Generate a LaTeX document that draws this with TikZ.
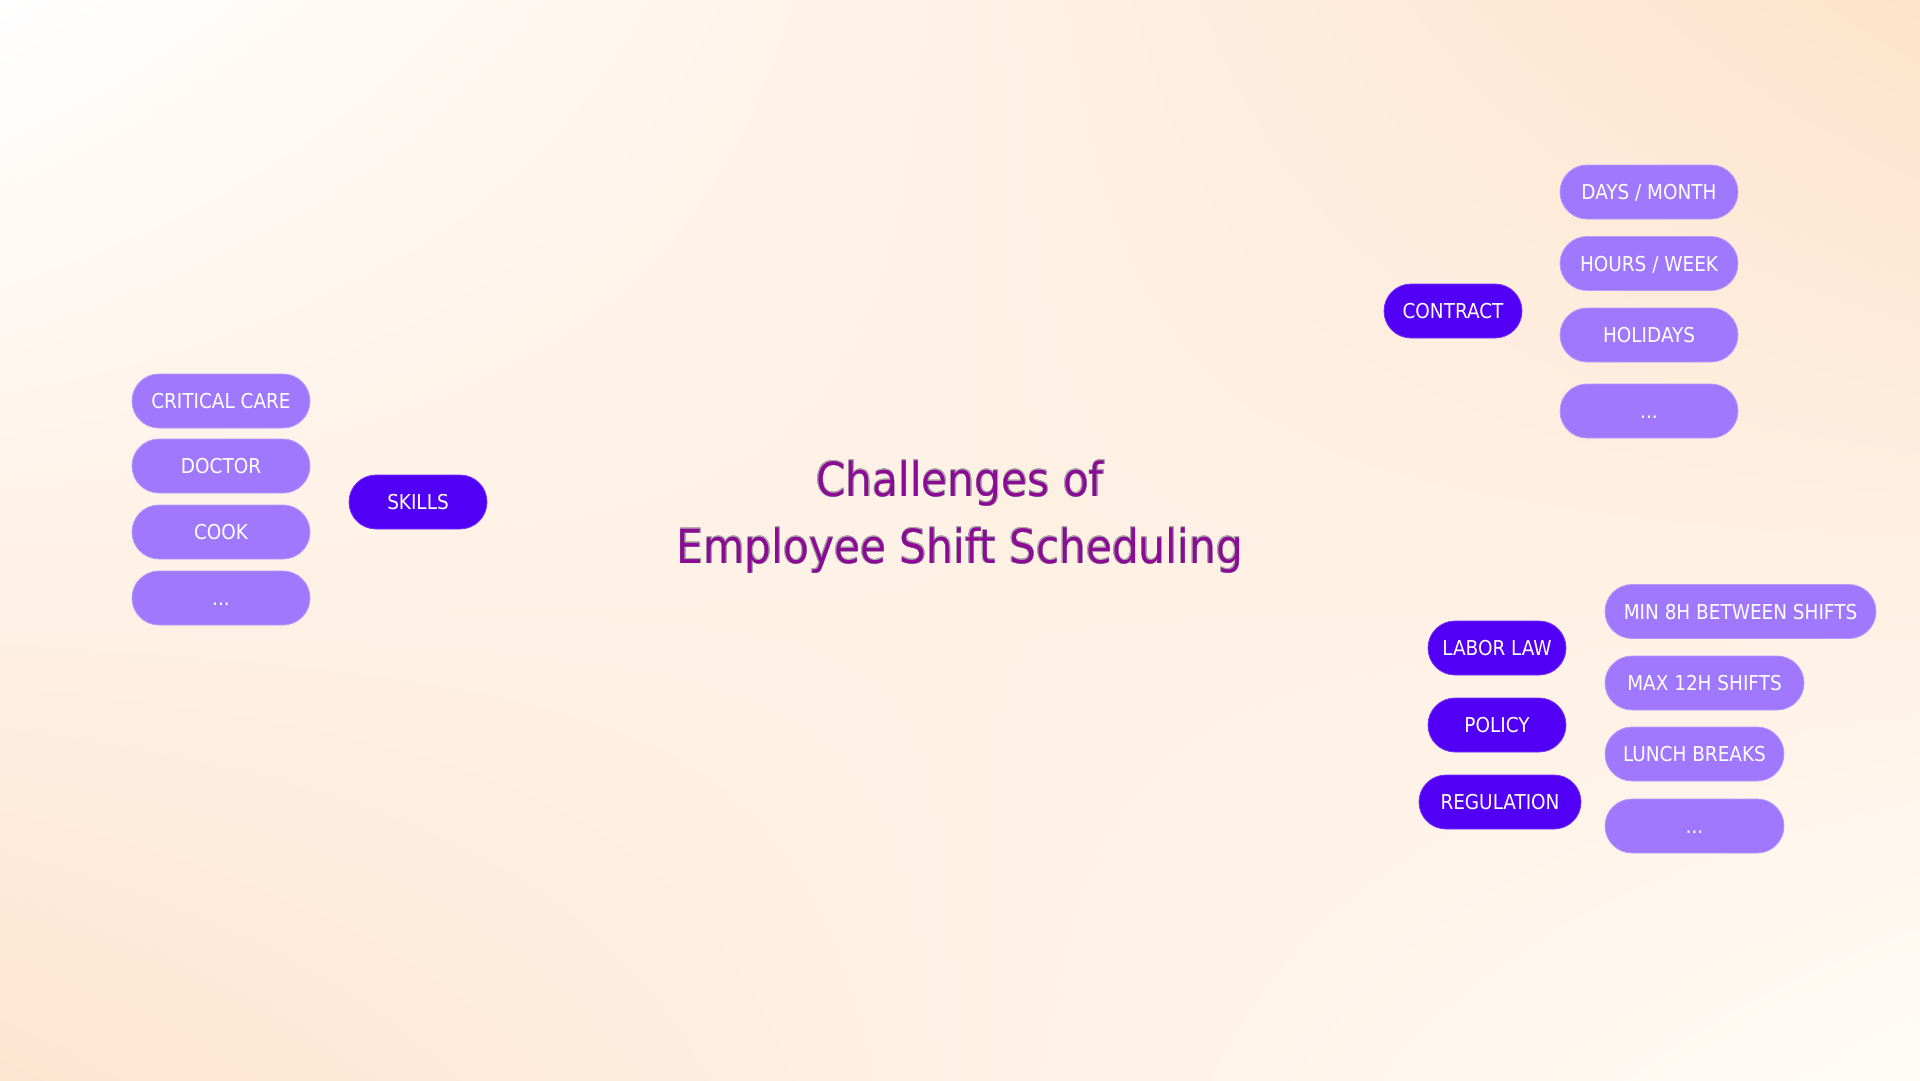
\documentclass[tikz,border=0pt]{standalone}
\usepackage{fontspec}
\setmainfont{DejaVu Sans Condensed}
\usepackage{contour}
\contourlength{0.5pt}
\usetikzlibrary{shadings}
\definecolor{peach}{RGB}{254,227,203}
\definecolor{peachb}{RGB}{254,229,208}
\definecolor{endw}{RGB}{255,252,248}
\definecolor{pillL}{RGB}{160,120,254}
\definecolor{pillD}{RGB}{82,0,245}
\definecolor{titlec}{RGB}{140,10,150}
\begin{document}
\begin{tikzpicture}[x=1pt,y=-1pt,
  pill/.style={rounded corners=27pt, minimum height=54pt, inner sep=0pt,
    text=white, text height=15pt, text depth=0pt,
    font=\fontsize{20.5}{24}\selectfont},
  leaf/.style={pill, fill=pillL, draw=pillL!75!white, line width=0.8pt},
  cat/.style={pill, fill=pillD, draw=pillD!80!white, line width=0.8pt},
  titletext/.style={anchor=base, inner sep=0pt, text=titlec,
    font=\fontsize{47}{56}\selectfont}
]
\useasboundingbox (0,0) rectangle (1920,1080);
\shade[upper left=white, upper right=peach, lower left=peachb, lower right=endw]
  (0,0) rectangle (1920,1080);

% title
\node[titletext] (title1) at (960,496) {\contour{gray!70}{Challenges of}};
\node[titletext] (title2) at (960,563) {\contour{gray!70}{Employee Shift Scheduling}};

% skills
\node[cat, minimum width=138pt] (skills) at (418,502) {SKILLS};
\node[leaf, minimum width=178pt] (crit) at (221,401) {CRITICAL CARE};
\node[leaf, minimum width=178pt] (doctor) at (221,466) {DOCTOR};
\node[leaf, minimum width=178pt] (cook) at (221,532) {COOK};
\node[leaf, minimum width=178pt] (skdots) at (221,598) {...\hspace{8pt}};

% contract
\node[cat, minimum width=138pt] (contract) at (1453,311) {CONTRACT};
\node[leaf, minimum width=178pt] (days) at (1649,192) {DAYS / MONTH};
\node[leaf, minimum width=178pt] (hours) at (1649,263.5) {HOURS / WEEK};
\node[leaf, minimum width=178pt] (holidays) at (1649,335) {HOLIDAYS};
\node[leaf, minimum width=178pt] (ctdots) at (1649,411) {...};

% law
\node[cat, minimum width=138pt] (labor) at (1497,648) {LABOR LAW};
\node[cat, minimum width=138pt] (policy) at (1497,725) {POLICY};
\node[cat, minimum width=162pt] (regulation) at (1500,802) {REGULATION};
\node[leaf, minimum width=271pt] (min8) at (1740.5,611.5) {MIN 8H BETWEEN SHIFTS};
\node[leaf, minimum width=199pt] (max12) at (1704.5,683) {MAX 12H SHIFTS};
\node[leaf, minimum width=179pt] (lunch) at (1694.5,754) {LUNCH BREAKS};
\node[leaf, minimum width=179pt] (lwdots) at (1694.5,826) {...\hspace{12pt}};
\end{tikzpicture}
\end{document}
